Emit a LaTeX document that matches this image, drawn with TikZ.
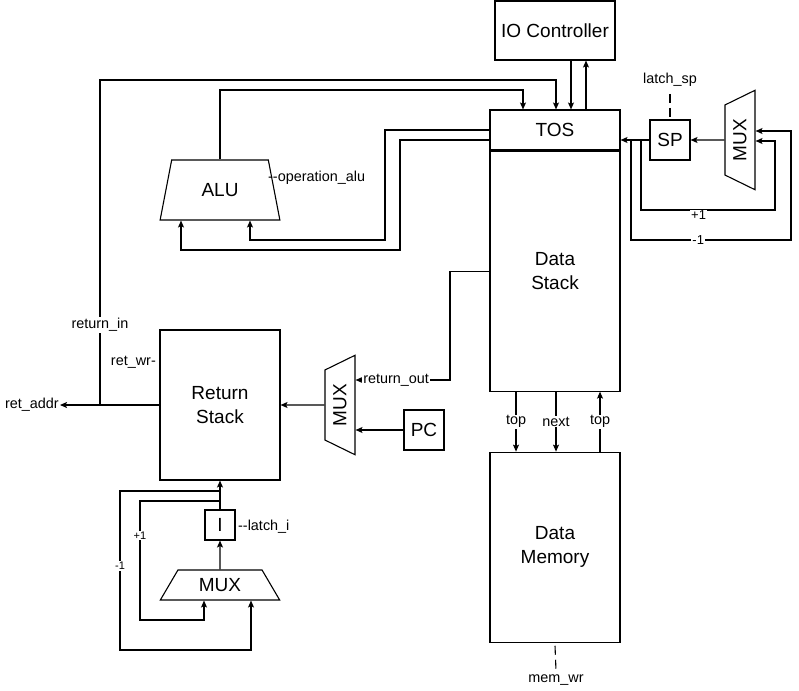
\documentclass[tikz,border=0pt]{standalone}
\usepackage{fontspec}
\setmainfont{Liberation Sans}
\usetikzlibrary{shapes.geometric,arrows.meta,positioning}
\tikzstyle{block} = [draw,line width=1.1pt,rectangle,inner sep=0,align=center,font=\fontsize{19}{24}\selectfont]
\tikzstyle{trap} = [draw,line width=1.1pt,trapezium,trapezium stretches=true,inner sep=0,font=\fontsize{19}{24}\selectfont]
\tikzstyle{wire} = [-,line width=1.1pt]
\tikzstyle{arr} = [-{Stealth[length=7pt,width=6pt,inset=1.5pt]},line width=1.1pt]
\tikzstyle{dashline} = [-,line width=1.1pt,dash pattern=on 9pt off 5pt]
\tikzstyle{lbl} = [inner sep=1pt,font=\fontsize{14.4}{17}\selectfont]
\tikzstyle{onwire} = [lbl,fill=white]
\tikzstyle{small} = [inner sep=1pt,fill=white,font=\fontsize{13}{15}\selectfont]
\tikzstyle{tiny} = [inner sep=1pt,fill=white,font=\fontsize{11}{13}\selectfont]

\begin{document}
\begin{tikzpicture}[x=1pt,y=-1pt]
      \useasboundingbox (0,0) rectangle (799,690);
      \node[block,minimum width=120pt,minimum height=59pt] (io) at (555,30.5) {IO Controller};
      \node[block,minimum width=130pt,minimum height=40pt] (tos) at (555,130) {TOS};
      \node[block,minimum width=130pt,minimum height=240pt,below=0pt of tos] (ds) {Data\\Stack};
      \node[block,minimum width=130pt,minimum height=190pt,below=60pt of ds] (dm) {Data\\Memory};
      \node[block,minimum size=40pt] (sp) at (670,140) {SP};
      \node[trap,rotate=90,minimum width=100pt,minimum height=30pt,trapezium angle=56.31] (muxr) at (740,140) {MUX};
      \node[trap,minimum width=120pt,minimum height=60pt,trapezium angle=71.57] (alu) at (220,190) {ALU};
      \node[block,minimum width=120pt,minimum height=150pt] (rs) at (220,405) {Return\\Stack};
      \node[trap,rotate=90,minimum width=100pt,minimum height=30pt,trapezium angle=56.31] (muxl) at (340,405) {MUX};
      \node[block,minimum size=40pt] (pc) at (424,430) {PC};
      \node[block,minimum size=30pt] (ireg) at (220,525) {I};
      \node[trap,minimum width=120pt,minimum height=30pt,trapezium angle=56.31] (muxb) at (220,585) {MUX};
      \node[lbl,anchor=east] (retaddr) at (60,405) {ret\_addr};
      \node[lbl,anchor=east] (retwr) at (157,362) {ret\_wr-};
      \node[lbl,anchor=west] (opalu) at (267,178) {-{}-operation\_alu};
      \node[lbl,anchor=west] (latchi) at (237,527) {-{}-latch\_i};
      \node[lbl] (latchsp) at (670,80) {latch\_sp};
      \node[lbl] (memwr) at (556,680) {mem\_wr};
      \coordinate (rin) at (100,405);
      \coordinate (spa) at (641,140);
      \coordinate (spb) at (631,140);
      \coordinate (ia) at (220,501);
      \coordinate (ib) at (220,491);
      \draw[arr] (rs.west) -- (retaddr.east);
      \draw[arr] (rin) -- node[onwire,pos=0.246] (lretin) {return\_in} (100,80) -| (556,80 |- tos.north);
      \draw[arr] (alu.north) |- (523,90) -- (523,90 |- tos.north);
      \draw[arr] (571,0 |- io.south) -- (571,0 |- tos.north);
      \draw[arr] (586,0 |- tos.north) -- (586,0 |- io.south);
      \draw[arr] (tos.west) -| (385,240) -| ([xshift=30pt]alu.south);
      \draw[arr] ([yshift=-10pt]tos.west) -| (400,250) -| ([xshift=-39pt]alu.south);
      \draw[arr] (sp.west) -- (sp.west -| tos.east);
      \draw[arr] (muxr.north) -- (sp.east);
      \draw[dashline] ([yshift=-6pt]latchsp.south) -- (sp.north);
      \draw[arr] (spa) -- (641,210) -- node[small,pos=0.43,yshift=-5pt] (lplus) {+1} (775,210) -- (775,141) -- (775,141 -| muxr.south);
      \draw[arr] (spb) -- (631,240) -- node[small,pos=0.42] (lminus) {-1} (791,240) -- (791,131) -- (791,131 -| muxr.south);
      \draw[arr] (ds.west) -| (450,380) -- node[onwire,pos=0.57] (lretout) {return\_out} (450,380 -| muxl.south);
      \draw[arr] (pc.west) -- (pc.west -| muxl.south);
      \draw[arr] (muxl.north) -- (rs.east);
      \draw[arr] (ireg.north) -- (rs.south);
      \draw[arr] (muxb.north) -- (ireg.south);
      \draw[arr] (ia) -- (140,501) -- node[tiny,pos=0.29] (liplus) {+1} (140,620) -| ([xshift=-16pt]muxb.south);
      \draw[arr] (ib) -- (120,491) -- node[tiny,pos=0.47] (liminus) {-1} (120,650) -| ([xshift=31pt]muxb.south);
      \draw[arr] (516,0 |- ds.south) -- node[onwire] (ltopa) {top} (516,0 |- dm.north);
      \draw[arr] (556,0 |- ds.south) -- node[onwire] (lnext) {next} (556,0 |- dm.north);
      \draw[arr] (600,0 |- dm.north) -- node[onwire] (ltopb) {top} (600,0 |- ds.south);
      \draw[dashline] ([yshift=-3pt]dm.south) -- ([yshift=3pt]memwr.north);
    \end{tikzpicture}
\end{document}
